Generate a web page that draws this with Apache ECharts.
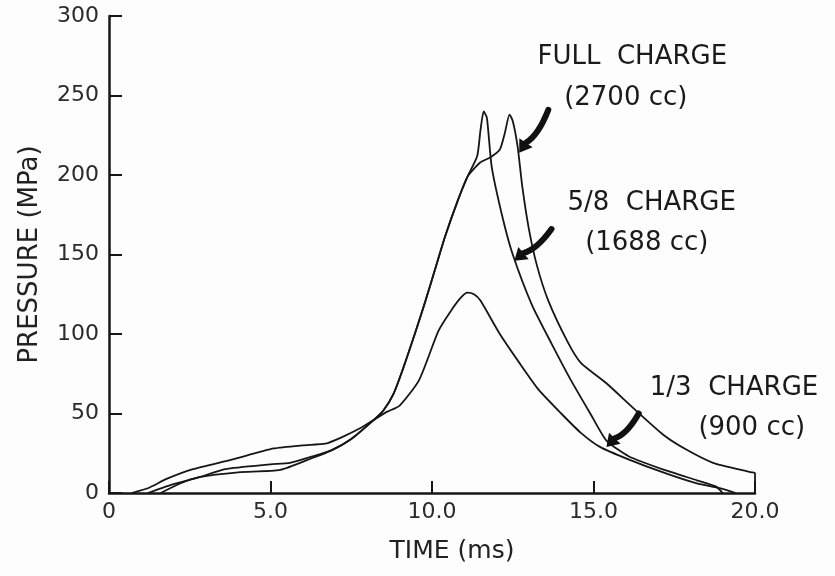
<!DOCTYPE html>
<html>
<head>
<meta charset="utf-8">
<script src="https://cdn.jsdelivr.net/npm/echarts@6/dist/echarts.min.js"></script>
<style>
  html, body { margin: 0; padding: 0; background: #fdfdfd; }
  #chart { width: 835px; height: 576px; }
</style>
</head>
<body>
<div id="chart"></div>
<script>
// time (ms), pressure (MPa)
var thirdCharge = [
  [0.7, 0], [1.2, 3], [1.8, 9], [2.6, 15], [3.8, 21], [5.1, 28], [6.0, 30], [6.7, 31],
  [7.2, 35], [7.8, 41], [8.2, 46], [8.6, 51], [9.0, 55], [9.6, 71], [10.2, 102], [10.6, 115],
  [10.9, 123], [11.1, 126], [11.3, 125], [11.5, 121], [12.1, 100], [12.7, 82], [13.3, 65],
  [14.0, 50], [14.6, 38], [15.2, 29], [16.1, 21], [17.2, 12.6], [18.2, 6], [18.9, 3], [19.4, 0]
];
var fiveEighthsCharge = [
  [1.2, 0], [1.9, 5], [2.8, 10], [3.6, 15], [5.0, 18], [5.6, 19], [6.3, 23], [6.9, 27],
  [7.5, 34], [8.2, 46], [8.5, 52], [8.8, 62], [9.1, 78], [9.5, 102], [9.8, 121], [10.1, 141],
  [10.4, 161], [10.8, 184], [11.1, 199], [11.4, 212], [11.5, 228], [11.6, 240], [11.7, 236],
  [11.85, 205], [12.2, 172], [12.5, 150], [13.1, 118], [13.7, 94], [14.3, 71], [14.9, 50],
  [15.4, 33], [16.1, 23], [17.2, 14.5], [18.2, 8], [18.8, 4], [19.0, 0]
];
var fullCharge = [
  [1.6, 0], [2.2, 6], [2.8, 10], [4.0, 13], [5.3, 14.5], [6.3, 22], [6.9, 27], [7.5, 34],
  [8.2, 46], [8.5, 52], [8.8, 62], [9.1, 78], [9.5, 102], [9.8, 121], [10.1, 141], [10.4, 161],
  [10.8, 184], [11.1, 199], [11.5, 208], [11.8, 211], [12.1, 216], [12.25, 226], [12.4, 238],
  [12.5, 234], [12.65, 218], [12.8, 192], [13.0, 166], [13.25, 143], [13.6, 121], [14.2, 95],
  [14.6, 82], [15.4, 69], [16.2, 54], [17.2, 36], [17.9, 27], [18.7, 19], [19.9, 13], [20, 12.5], [20, 0]
];

var xTicks = [0, 5, 10, 15, 20];
var yTicks = [0, 50, 100, 150, 200, 250, 300];

// annotation text and arrows, anchored in data coords
var notes = [
  { lines: ['FULL  CHARGE', '(2700 cc)'], at: [[16.2, 274], [16.0, 248]], tail: [13.6, 241], tip: [12.7, 214] },
  { lines: ['5/8  CHARGE', '(1688 cc)'], at: [[16.8, 182], [16.65, 157]], tail: [13.7, 166], tip: [12.55, 146] },
  { lines: ['1/3  CHARGE', '(900 cc)'], at: [[19.35, 66], [19.9, 41]], tail: [16.4, 50], tip: [15.4, 29] }
];

var font = '"DejaVu Sans", sans-serif';
var ink = '#161616';

var myChart = echarts.init(document.getElementById('chart'));

function line(name, data) {
  return {
    name: name,
    type: 'line',
    data: data,
    showSymbol: false,
    smooth: 0.2,
    lineStyle: { color: ink, width: 1.8 },
    z: 3
  };
}

var option = {
  backgroundColor: '#fdfdfd',
  animation: false,
  grid: { left: 109, right: 80, top: 16, bottom: 83 },
  xAxis: {
    type: 'value',
    min: xTicks[0],
    max: xTicks[xTicks.length - 1],
    interval: 5,
    name: 'TIME (ms)',
    nameLocation: 'middle',
    nameGap: 46,
    nameTextStyle: { color: '#222', fontFamily: font, fontSize: 25, padding: [0, 0, 0, 40] },
    axisLine: { lineStyle: { color: ink, width: 2.5 } },
    axisTick: { inside: true, length: 12, lineStyle: { color: ink, width: 2 } },
    axisLabel: {
      color: '#2a2a2a', fontFamily: font, fontSize: 22, margin: 8,
      formatter: function (v) { return v === 0 ? '0' : v.toFixed(1); }
    },
    splitLine: { show: false }
  },
  yAxis: {
    type: 'value',
    min: yTicks[0],
    max: yTicks[yTicks.length - 1],
    interval: 50,
    name: 'PRESSURE (MPa)',
    nameLocation: 'middle',
    nameGap: 66,
    nameTextStyle: { color: '#222', fontFamily: font, fontSize: 26 },
    axisLine: { show: true, lineStyle: { color: ink, width: 2.5 } },
    axisTick: { show: true, inside: true, length: 13, lineStyle: { color: ink, width: 2 } },
    axisLabel: { color: '#2a2a2a', fontFamily: font, fontSize: 22, margin: 10 },
    splitLine: { show: false }
  },
  series: [
    line('1/3 CHARGE', thirdCharge),
    line('5/8 CHARGE', fiveEighthsCharge),
    line('FULL CHARGE', fullCharge)
  ]
};

myChart.setOption(option);

function drawNotes() {
  var els = [];
  notes.forEach(function (n) {
    n.lines.forEach(function (txt, i) {
      var p = myChart.convertToPixel({ gridIndex: 0 }, n.at[i]);
      els.push({
        type: 'text', x: p[0], y: p[1], z: 10,
        style: { text: txt, fill: '#1a1a1a', font: '26px ' + font, align: 'center', verticalAlign: 'middle' }
      });
    });
    var a = myChart.convertToPixel({ gridIndex: 0 }, n.tail);
    var b = myChart.convertToPixel({ gridIndex: 0 }, n.tip);
    // bend the shaft a little
    var dx = b[0] - a[0], dy = b[1] - a[1];
    var len = Math.sqrt(dx * dx + dy * dy);
    var ux = dx / len, uy = dy / len;
    var cx = (a[0] + b[0]) / 2 + uy * 6, cy = (a[1] + b[1]) / 2 - ux * 6;
    var hx = b[0] - ux * 12, hy = b[1] - uy * 12;
    els.push({
      type: 'bezierCurve', z: 10,
      shape: { x1: a[0], y1: a[1], cpx1: cx, cpy1: cy, x2: hx, y2: hy },
      style: { stroke: '#111', lineWidth: 6, fill: null, lineCap: 'round' }
    });
    els.push({
      type: 'polygon', z: 10,
      shape: { points: [[b[0], b[1]], [hx - uy * 8, hy + ux * 8], [hx + uy * 8, hy - ux * 8]] },
      style: { fill: '#111' }
    });
  });
  myChart.setOption({ graphic: { elements: els } });
}
drawNotes();

window.addEventListener('resize', function () {
  myChart.resize();
  drawNotes();
}, true);
</script>
</body>
</html>
